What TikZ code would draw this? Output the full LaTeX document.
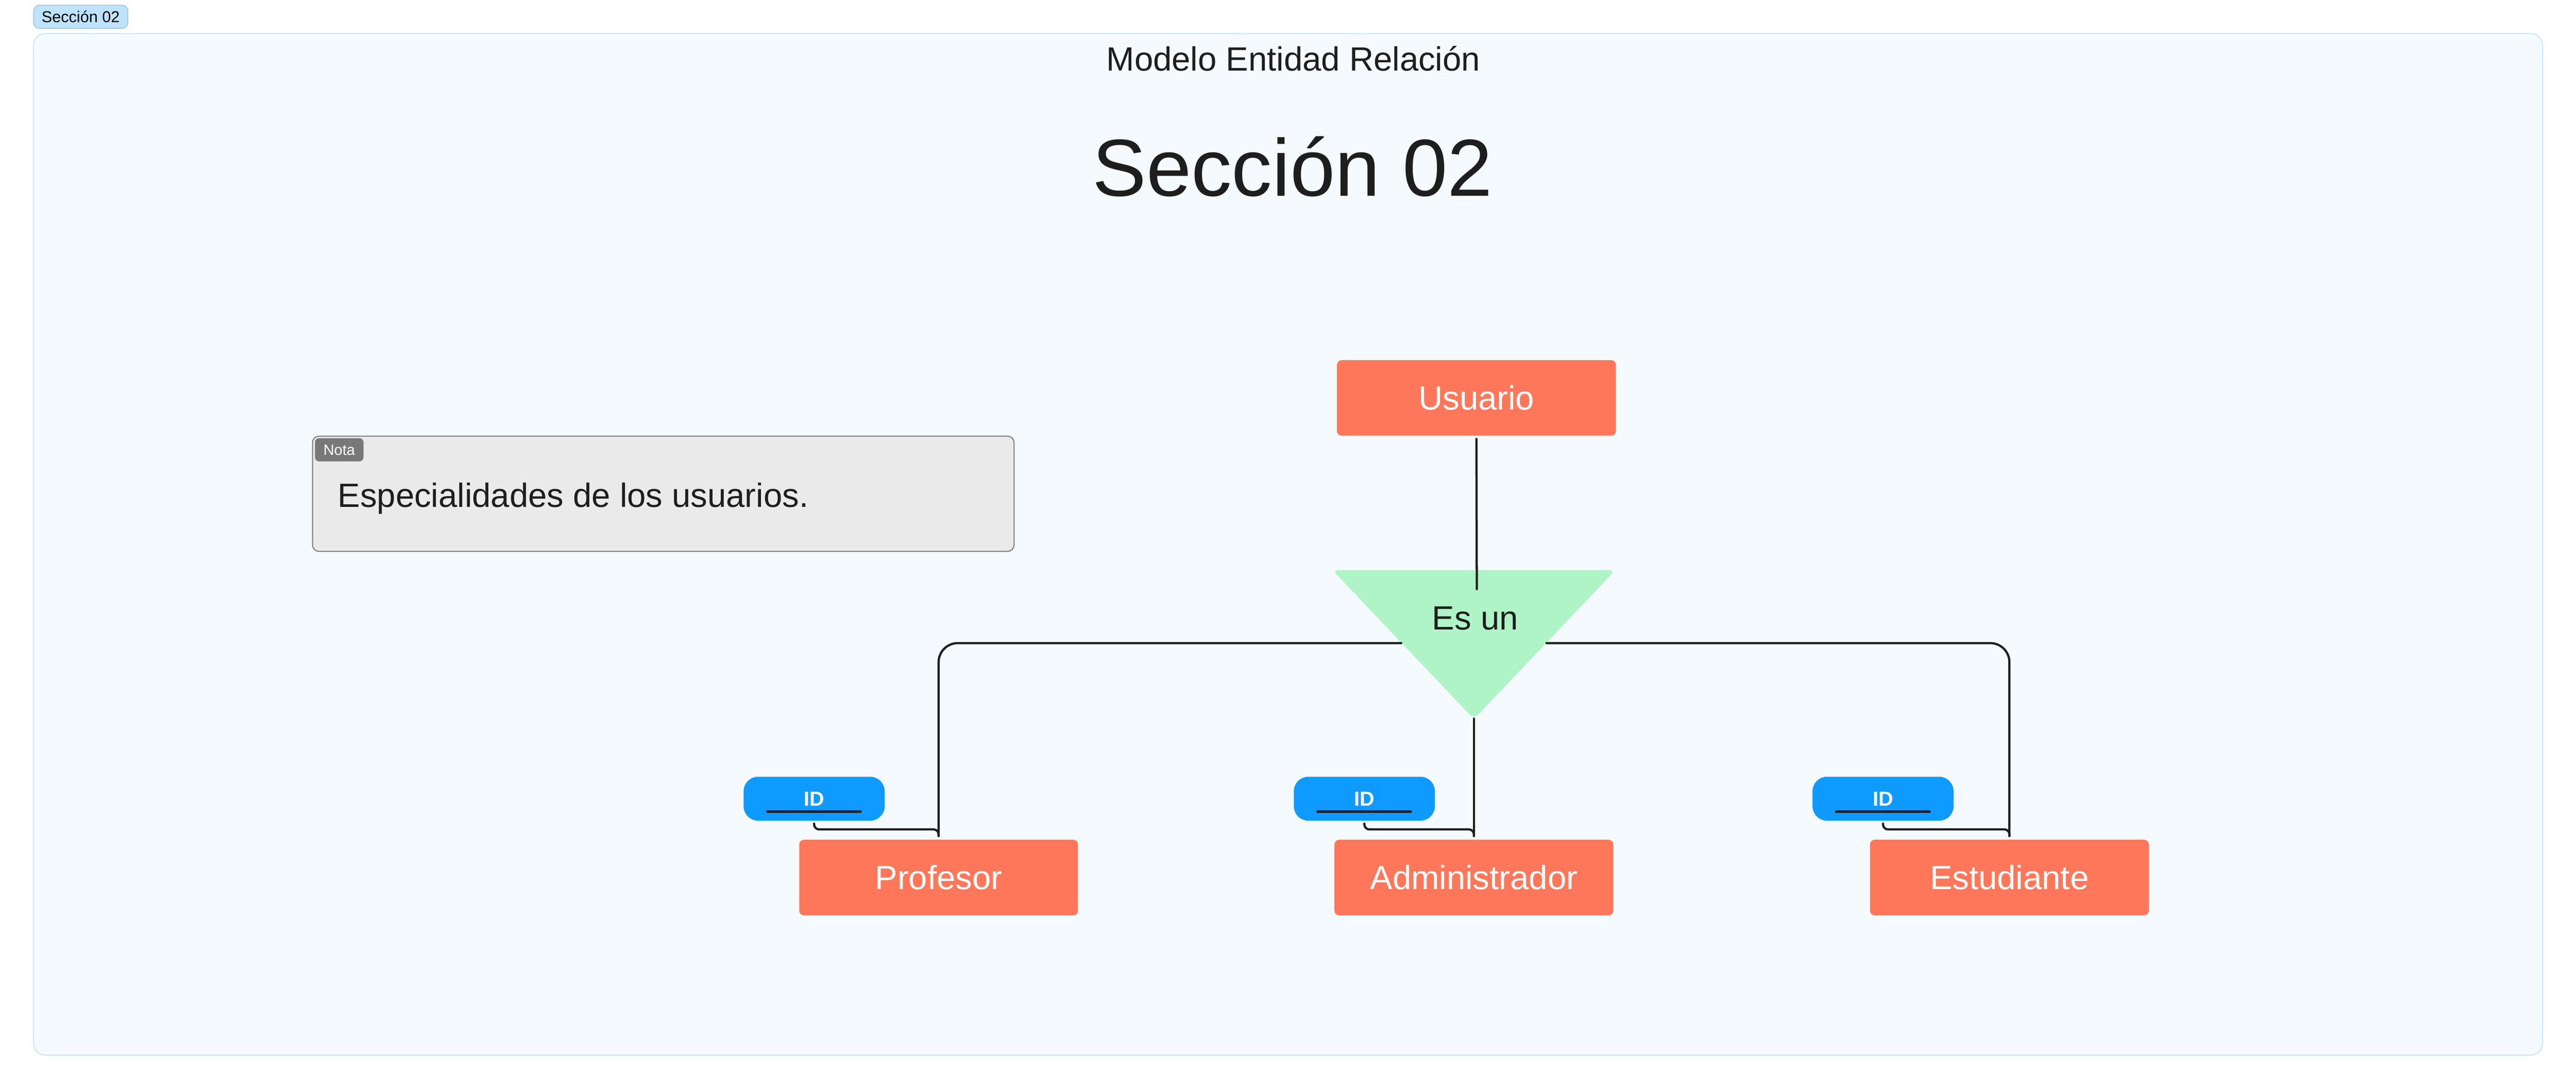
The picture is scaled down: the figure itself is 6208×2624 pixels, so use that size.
\documentclass[tikz,border=0pt]{standalone}
\usepackage{fontspec}
\setmainfont{Liberation Sans}
\definecolor{framefill}{HTML}{F5FAFF}
\definecolor{framedraw}{HTML}{BDE3FB}
\definecolor{tagfill}{HTML}{BEE3FC}
\definecolor{tagdraw}{HTML}{A0C4DC}
\definecolor{entfill}{HTML}{FF775A}
\definecolor{attrfill}{HTML}{0F9AFF}
\definecolor{isafill}{HTML}{AFF4C6}
\definecolor{notefill}{HTML}{EAEAEA}
\definecolor{notedraw}{HTML}{7A7A7A}
\definecolor{notatag}{HTML}{787878}
\definecolor{ink}{HTML}{1E1E1E}
\begin{document}
\begin{tikzpicture}[x=0.1pt,y=-0.1pt,
  entity/.style={fill=entfill, rounded corners=1.1pt, minimum width=67.2pt, minimum height=18.2pt,
    inner sep=0pt, text=white, font=\fontsize{8.1pt}{9.7pt}\selectfont, text height=5.8pt, text depth=0pt},
  attr/.style={fill=attrfill, rounded corners=3.5pt, minimum width=34pt, minimum height=10.6pt,
    inner sep=0pt, text=white, font=\fontsize{4.9pt}{5.9pt}\selectfont\bfseries, text height=3.5pt, text depth=0pt,
    path picture={\draw[draw=ink, line width=0.6pt, line cap=round]
      ([xshift=-11.3pt,yshift=-3.1pt]path picture bounding box.center) --
      ([xshift=11.2pt,yshift=-3.1pt]path picture bounding box.center);}},
  conn/.style={draw=ink, line width=0.53pt, line cap=round, rounded corners=4.6pt},
  idconn/.style={draw=ink, line width=0.53pt, line cap=round, rounded corners=1.2pt},
  plain/.style={text=ink, inner sep=0pt, font=\fontsize{8.1pt}{9.7pt}\selectfont},
]
\useasboundingbox (0,0) rectangle (6208,2624);
% frame
\draw[fill=framefill, draw=framedraw, line width=0.2pt, rounded corners=2.8pt] (81,81) rectangle (6127,2543);
% section tag
\node[fill=tagfill, draw=tagdraw, line width=0.2pt, rounded corners=1.4pt, minimum width=22.7pt, minimum height=5.6pt,
  inner sep=0pt, text=black, font=\fontsize{3.8pt}{4.5pt}\selectfont, text height=2.7pt, text depth=0pt]
  (sectag) at (194.5,40.5) {Sección 02};
% titles
\node[plain, anchor=base] (title) at (3117,171) {Modelo Entidad Relación};
\node[plain, anchor=base, font=\fontsize{19.5pt}{23pt}\selectfont] (heading) at (3115,472) {Sección 02};
% note
\node[fill=notefill, draw=notedraw, line width=0.25pt, rounded corners=1.6pt, minimum width=169.1pt,
  minimum height=27.8pt, inner sep=0pt] (note) at (1598.5,1190) {};
\node[fill=notatag, rounded corners=1pt, minimum width=11.7pt, minimum height=5.6pt, inner sep=0pt,
  text=white, font=\fontsize{3.6pt}{4.3pt}\selectfont, text height=2.6pt, text depth=0pt]
  (notatag) at (817.5,1084) {Nota};
\node[plain, anchor=base west] (notetext) at (812,1222) {Especialidades de los usuarios.};
% entities
\node[entity] (usuario) at (3558,959) {Usuario};
\node[entity] (profesor) at (2262,2115) {Profesor};
\node[entity] (admin) at (3552,2115) {Administrador};
\node[entity] (estudiante) at (4842.5,2115) {Estudiante};
% ISA triangle
\fill[isafill, rounded corners=1.5pt] (3211,1374) -- (3893,1374) -- (3552,1733) -- cycle;
\node[plain, text height=5.9pt, text depth=0pt] (esun) at (3555,1488) {Es un};
\coordinate (isaTop) at (3559,1420);
\coordinate (isaL) at (3377,1550);
\coordinate (isaR) at (3727,1550);
\coordinate (isaB) at (3552,1732);
% attributes
\node[attr] (id1) at (1962,1925) {ID};
\node[attr] (id2) at (3288,1925) {ID};
\node[attr] (id3) at (4538,1925) {ID};
% connectors
\draw[conn] ([yshift=-0.6pt]usuario.south) -- (isaTop);
\draw[conn] (isaL) -| ([yshift=0.7pt]profesor.north);
\draw[conn] (isaR) -| ([yshift=0.7pt]estudiante.north);
\draw[conn] (isaB) -- ([yshift=0.7pt]admin.north);
\draw[idconn] ([yshift=-0.5pt]id1.south) |- ([yshift=2.3pt]profesor.north) -- ([yshift=0.7pt]profesor.north);
\draw[idconn] ([yshift=-0.5pt]id2.south) |- ([yshift=2.3pt]admin.north) -- ([yshift=0.7pt]admin.north);
\draw[idconn] ([yshift=-0.5pt]id3.south) |- ([yshift=2.3pt]estudiante.north) -- ([yshift=0.7pt]estudiante.north);
\end{tikzpicture}
\end{document}
